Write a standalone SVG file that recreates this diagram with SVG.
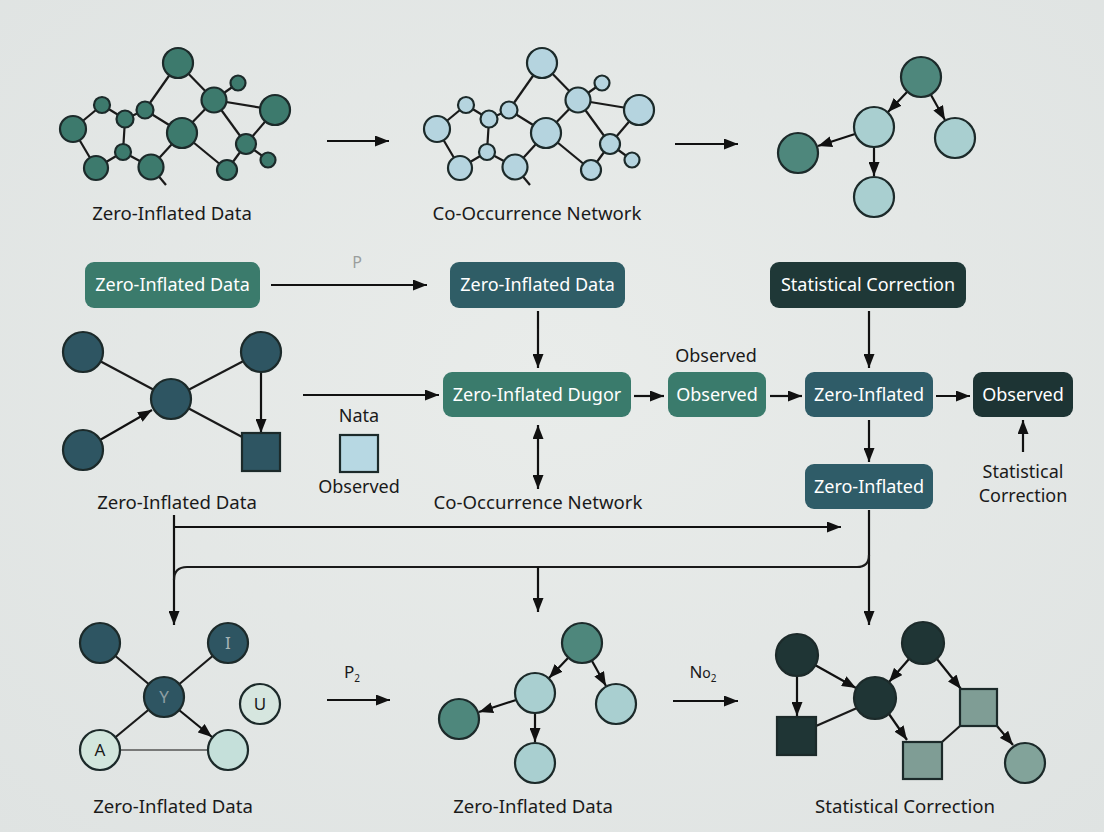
<svg xmlns="http://www.w3.org/2000/svg" width="1104" height="832" viewBox="0 0 1104 832">
<defs>
<marker id="ah" viewBox="0 0 14 11" refX="14" refY="5.5" markerWidth="14" markerHeight="11" markerUnits="userSpaceOnUse" orient="auto-start-reverse">
<path d="M0,0 L14,5.5 L0,11 z" fill="#111"/>
</marker>
<radialGradient id="bg" cx="50%" cy="45%" r="75%">
<stop offset="0" stop-color="#e9ecea"/>
<stop offset="1" stop-color="#dfe3e2"/>
</radialGradient>
</defs>
<style>
text{font-family:"Noto Sans","Open Sans","Liberation Sans",sans-serif;}
.lbl{font-size:18.6px;fill:#1a1a1a;text-anchor:middle;}
.bt{font-size:18px;fill:#ffffff;text-anchor:middle;}
.e{stroke:#1a1a1a;stroke-width:2.2;fill:none;}
.a{stroke:#111;stroke-width:2.2;fill:none;marker-end:url(#ah);}
.nd{stroke:#1c2a2a;stroke-width:2.2;}
.g1{fill:#3d7a6d;}
.lb{fill:#b5d4df;}
.tk{fill:#4e877c;}
.tl{fill:#a9cfd0;}
.sl{fill:#2e5562;}
.dk{fill:#1f3535;}
.gg{fill:#7f9d95;}
</style>
<rect width="1104" height="832" fill="url(#bg)"/>

<g id="connectors">
<line class="a" x1="327" y1="141" x2="389" y2="141"/>
<line class="a" x1="675" y1="144" x2="738" y2="144"/>
<line class="a" x1="271" y1="285" x2="427" y2="285"/>
<line class="a" x1="538" y1="311" x2="538" y2="368"/>
<line class="a" x1="869" y1="311" x2="869" y2="368"/>
<line class="a" x1="303" y1="395" x2="439" y2="395"/>
<line class="a" x1="634" y1="396" x2="664" y2="396"/>
<line class="a" x1="770" y1="396" x2="802" y2="396"/>
<line class="a" x1="936" y1="396" x2="970" y2="396"/>
<line class="a" x1="1023" y1="452" x2="1023" y2="420"/>
<line class="a" x1="869" y1="420" x2="869" y2="462"/>
<line class="a" x1="538" y1="425" x2="538" y2="489" style="marker-start:url(#ah)"/>
<line class="a" x1="174" y1="527" x2="841" y2="527"/>
<line class="a" x1="174" y1="515" x2="174" y2="625"/>
<line class="a" x1="869" y1="510" x2="869" y2="625"/>
<path class="e" d="M174,580 Q174,567 187,567 L857,567 Q869,567 869,555"/>
<line class="a" x1="538" y1="567" x2="538" y2="612"/>
<line class="a" x1="327" y1="700" x2="390" y2="700"/>
<line class="a" x1="673" y1="701" x2="738" y2="701"/>
</g>

<g id="net-zero-inflated">
<g class="e">
<line x1="178" y1="63" x2="145" y2="110"/>
<line x1="178" y1="63" x2="214" y2="100"/>
<line x1="214" y1="100" x2="238" y2="83"/>
<line x1="214" y1="100" x2="275" y2="110"/>
<line x1="214" y1="100" x2="182" y2="133"/>
<line x1="214" y1="100" x2="246" y2="144"/>
<line x1="275" y1="110" x2="246" y2="144"/>
<line x1="246" y1="144" x2="268" y2="160"/>
<line x1="246" y1="144" x2="227" y2="170"/>
<line x1="182" y1="133" x2="227" y2="170"/>
<line x1="182" y1="133" x2="151" y2="167"/>
<line x1="182" y1="133" x2="145" y2="110"/>
<line x1="145" y1="110" x2="125" y2="119"/>
<line x1="125" y1="119" x2="102" y2="105"/>
<line x1="102" y1="105" x2="73" y2="129"/>
<line x1="73" y1="129" x2="96" y2="168"/>
<line x1="96" y1="168" x2="123" y2="152"/>
<line x1="123" y1="152" x2="151" y2="167"/>
<line x1="125" y1="119" x2="123" y2="152"/>
<line x1="151" y1="167" x2="166" y2="185"/>
</g>
<g class="nd g1">
<circle cx="178" cy="63" r="15"/>
<circle cx="238" cy="83" r="7.5"/>
<circle cx="214" cy="100" r="12.5"/>
<circle cx="275" cy="110" r="15"/>
<circle cx="102" cy="105" r="8"/>
<circle cx="125" cy="119" r="8.5"/>
<circle cx="145" cy="110" r="8.5"/>
<circle cx="73" cy="129" r="13"/>
<circle cx="182" cy="133" r="15"/>
<circle cx="246" cy="144" r="10"/>
<circle cx="123" cy="152" r="8"/>
<circle cx="268" cy="160" r="7.5"/>
<circle cx="96" cy="168" r="12"/>
<circle cx="151" cy="167" r="12.5"/>
<circle cx="227" cy="170" r="10"/>
</g>
<text class="lbl" x="172" y="220">Zero-Inflated Data</text>
</g>

<g id="net-co-occurrence">
<g transform="translate(364,0)">
<g class="e">
<line x1="178" y1="63" x2="145" y2="110"/>
<line x1="178" y1="63" x2="214" y2="100"/>
<line x1="214" y1="100" x2="238" y2="83"/>
<line x1="214" y1="100" x2="275" y2="110"/>
<line x1="214" y1="100" x2="182" y2="133"/>
<line x1="214" y1="100" x2="246" y2="144"/>
<line x1="275" y1="110" x2="246" y2="144"/>
<line x1="246" y1="144" x2="268" y2="160"/>
<line x1="246" y1="144" x2="227" y2="170"/>
<line x1="182" y1="133" x2="227" y2="170"/>
<line x1="182" y1="133" x2="151" y2="167"/>
<line x1="182" y1="133" x2="145" y2="110"/>
<line x1="145" y1="110" x2="125" y2="119"/>
<line x1="125" y1="119" x2="102" y2="105"/>
<line x1="102" y1="105" x2="73" y2="129"/>
<line x1="73" y1="129" x2="96" y2="168"/>
<line x1="96" y1="168" x2="123" y2="152"/>
<line x1="123" y1="152" x2="151" y2="167"/>
<line x1="125" y1="119" x2="123" y2="152"/>
<line x1="151" y1="167" x2="166" y2="185"/>
</g>
<g class="nd lb">
<circle cx="178" cy="63" r="15"/>
<circle cx="238" cy="83" r="7.5"/>
<circle cx="214" cy="100" r="12.5"/>
<circle cx="275" cy="110" r="15"/>
<circle cx="102" cy="105" r="8"/>
<circle cx="125" cy="119" r="8.5"/>
<circle cx="145" cy="110" r="8.5"/>
<circle cx="73" cy="129" r="13"/>
<circle cx="182" cy="133" r="15"/>
<circle cx="246" cy="144" r="10"/>
<circle cx="123" cy="152" r="8"/>
<circle cx="268" cy="160" r="7.5"/>
<circle cx="96" cy="168" r="12"/>
<circle cx="151" cy="167" r="12.5"/>
<circle cx="227" cy="170" r="10"/>
</g>
</g>
<text class="lbl" x="537" y="220">Co-Occurrence Network</text>
</g>

<g id="tree-top">
<line class="a" x1="907" y1="92" x2="888" y2="112"/>
<line class="a" x1="931" y1="95" x2="945" y2="120"/>
<line class="a" x1="855" y1="134" x2="818" y2="146"/>
<line class="a" x1="874" y1="147" x2="874" y2="176"/>
<g class="nd">
<circle class="tk" cx="921" cy="77" r="20"/>
<circle class="tl" cx="874" cy="127" r="20"/>
<circle class="tl" cx="955" cy="138" r="20"/>
<circle class="tk" cx="798" cy="153" r="20"/>
<circle class="tl" cx="874" cy="197" r="20"/>
</g>
</g>

<g id="box-zid-1">
<rect x="85" y="262" width="175" height="46" rx="9" fill="#3b7b6c"/>
<text class="bt" x="172.5" y="291">Zero-Inflated Data</text>
</g>
<g id="label-p"><text x="357" y="268" font-size="16" fill="#9a9e9d" text-anchor="middle">P</text></g>
<g id="box-zid-2">
<rect x="450" y="262" width="175" height="46" rx="9" fill="#2f5d66"/>
<text class="bt" x="537.5" y="291">Zero-Inflated Data</text>
</g>
<g id="box-stat">
<rect x="770" y="262" width="196" height="46" rx="9" fill="#1f3837"/>
<text class="bt" x="868" y="291">Statistical Correction</text>
</g>
<g id="box-dugor">
<rect x="443" y="372" width="188" height="45" rx="9" fill="#3a7b6c"/>
<text class="bt" x="537" y="401">Zero-Inflated Dugor</text>
</g>
<g id="box-observed-1">
<text class="lbl" x="716" y="362" style="font-size:18px">Observed</text>
<rect x="668" y="372" width="98" height="45" rx="9" fill="#3a7b6c"/>
<text class="bt" x="717" y="401">Observed</text>
</g>
<g id="box-zi-1">
<rect x="805" y="372" width="128" height="45" rx="9" fill="#2f5c68"/>
<text class="bt" x="869" y="401">Zero-Inflated</text>
</g>
<g id="box-observed-2">
<rect x="973" y="372" width="100" height="45" rx="9" fill="#1d3434"/>
<text class="bt" x="1023" y="401">Observed</text>
</g>
<g id="label-stat">
<text class="lbl" x="1023" y="478" style="font-size:18px">Statistical</text>
<text class="lbl" x="1023" y="502" style="font-size:18px">Correction</text>
</g>
<g id="box-zi-2">
<rect x="805" y="464" width="128" height="45" rx="9" fill="#2f5c68"/>
<text class="bt" x="869" y="493">Zero-Inflated</text>
</g>
<g id="label-con"><text class="lbl" x="538" y="509">Co-Occurrence Network</text></g>

<g id="net-middle">
<line class="e" x1="83" y1="352" x2="171" y2="399"/>
<line class="e" x1="261" y1="352" x2="171" y2="399"/>
<line class="e" x1="171" y1="399" x2="244" y2="438"/>
<line class="a" x1="100" y1="440" x2="152" y2="410"/>
<line class="a" x1="261" y1="372" x2="261" y2="433"/>
<g class="nd sl">
<circle cx="83" cy="352" r="20"/>
<circle cx="261" cy="352" r="20"/>
<circle cx="171" cy="399" r="20"/>
<circle cx="83" cy="450" r="20"/>
<rect x="242" y="433" width="38" height="38"/>
</g>
<text class="lbl" x="177" y="509">Zero-Inflated Data</text>
</g>
<g id="legend-observed">
<text class="lbl" x="359" y="422" style="font-size:18px">Nata</text>
<rect class="nd" x="340" y="435" width="38" height="37" fill="#b7d8e3"/>
<text class="lbl" x="359" y="493" style="font-size:18px">Observed</text>
</g>

<g id="net-bottom-left">
<line class="e" x1="100" y1="643" x2="164" y2="697"/>
<line class="e" x1="228" y1="643" x2="164" y2="697"/>
<line class="e" x1="100" y1="750" x2="164" y2="697"/>
<line x1="100" y1="750" x2="228" y2="750" stroke="#555" stroke-width="1.5"/>
<line class="a" x1="179" y1="710" x2="212" y2="737"/>
<g class="nd">
<circle class="sl" cx="100" cy="643" r="20"/>
<circle class="sl" cx="228" cy="643" r="20"/>
<circle class="sl" cx="164" cy="697" r="20"/>
<circle cx="260" cy="704" r="20" fill="#d6e6df"/>
<circle cx="100" cy="750" r="20" fill="#d2e6dd"/>
<circle cx="228" cy="750" r="20" fill="#c5e0da"/>
</g>
<g font-size="17" text-anchor="middle">
<text x="228" y="649" fill="#a6b4b6">I</text>
<text x="164" y="703" fill="#8d9ea2">Y</text>
<text x="260" y="710" fill="#1a1a1a">U</text>
<text x="100" y="756" fill="#1a1a1a">A</text>
</g>
<text class="lbl" x="173" y="813">Zero-Inflated Data</text>
</g>
<g id="label-p2"><text x="352" y="678" font-size="17" fill="#1a1a1a" text-anchor="middle">P<tspan font-size="10" dy="4">2</tspan></text></g>
<g id="label-no2"><text x="703" y="678" font-size="17" fill="#1a1a1a" text-anchor="middle">N<tspan font-size="14">o</tspan><tspan font-size="10" dy="4">2</tspan></text></g>

<g id="tree-bottom">
<g transform="translate(-339,566)">
<line class="a" x1="907" y1="92" x2="888" y2="112"/>
<line class="a" x1="931" y1="95" x2="945" y2="120"/>
<line class="a" x1="855" y1="134" x2="818" y2="146"/>
<line class="a" x1="874" y1="147" x2="874" y2="176"/>
<g class="nd">
<circle class="tk" cx="921" cy="77" r="20"/>
<circle class="tl" cx="874" cy="127" r="20"/>
<circle class="tl" cx="955" cy="138" r="20"/>
<circle class="tk" cx="798" cy="153" r="20"/>
<circle class="tl" cx="874" cy="197" r="20"/>
</g>
</g>
<text class="lbl" x="533" y="813">Zero-Inflated Data</text>
</g>

<g id="net-bottom-right">
<line class="e" x1="816" y1="726" x2="857" y2="708"/>
<line class="e" x1="942" y1="742" x2="960" y2="726"/>
<line class="a" x1="797" y1="676" x2="797" y2="716"/>
<line class="a" x1="815" y1="665" x2="856" y2="688"/>
<line class="a" x1="909" y1="659" x2="889" y2="682"/>
<line class="a" x1="937" y1="659" x2="961" y2="689"/>
<line class="a" x1="889" y1="714" x2="907" y2="740"/>
<line class="a" x1="997" y1="726" x2="1013" y2="745"/>
<g class="nd">
<circle class="dk" cx="797" cy="655" r="21"/>
<circle class="dk" cx="923" cy="643" r="21"/>
<circle class="dk" cx="875" cy="698" r="21"/>
<rect class="dk" x="777" y="717" width="39" height="38"/>
<rect class="gg" x="960" y="689" width="37" height="37"/>
<rect class="gg" x="903" y="742" width="39" height="37"/>
<circle cx="1025" cy="763" r="20" fill="#82a39a"/>
</g>
<text class="lbl" x="905" y="813">Statistical Correction</text>
</g>
</svg>
